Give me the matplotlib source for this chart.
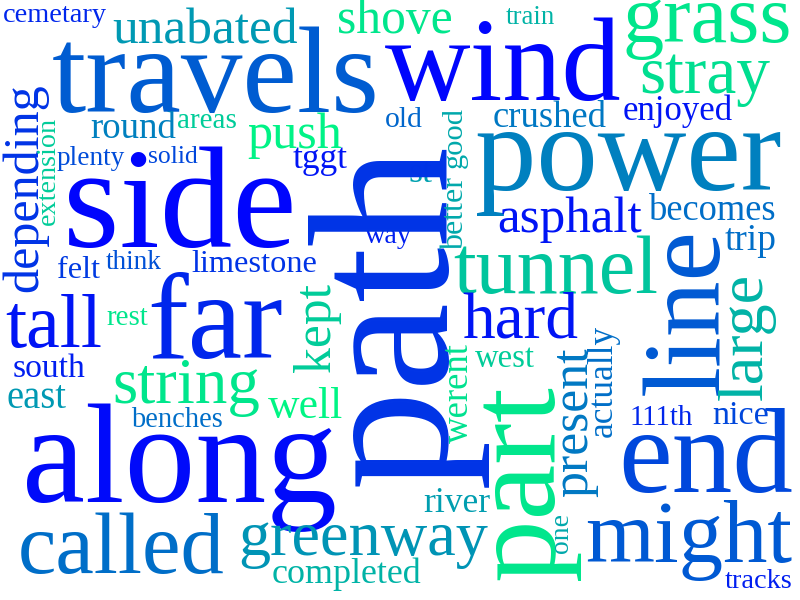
import matplotlib
matplotlib.use("Agg")
import matplotlib.pyplot as plt

# words of the cloud
words = [
    "cemetary", "unabated", "travels", "shove", "train", "grass", "wind",
    "stray", "enjoyed", "crushed", "old", "round", "areas", "push", "plenty",
    "solid", "tggt", "side", "power", "st", "asphalt", "becomes", "trip",
    "tunnel", "way", "felt", "think", "limestone", "tall", "rest", "far",
    "south", "east", "string", "well", "benches", "along", "called",
    "greenway", "completed", "hard", "west", "river", "111th", "nice", "end",
    "might", "tracks",
    "depending", "extension", "path", "part", "line", "large", "kept",
    "good", "better", "werent", "present", "actually", "one",
]

# layout: (start x, baseline, ink length, vertical?, colour shade on 'winter')
layout = [
    (3, 22, 104, 0, 0.15), (112, 43, 186, 0, 0.60), (52, 112, 328, 0, 0.36),
    (337, 33, 116, 0, 0.90), (506, 24, 49, 0, 0.70), (623, 42, 170, 0, 0.90),
    (385, 100, 237, 0, 0.02), (639, 93, 131, 0, 0.87), (623, 120, 110, 0, 0.08),
    (493, 127, 114, 0, 0.47), (385, 127, 38, 0, 0.40), (90, 138, 86, 0, 0.50),
    (177, 128, 60, 0, 0.80), (247, 148, 95, 0, 0.95), (57, 165, 68, 0, 0.30),
    (148, 163, 50, 0, 0.28), (293, 168, 55, 0, 0.08), (63, 247, 234, 0, 0.02),
    (475, 190, 307, 0, 0.50), (408, 182, 24, 0, 0.63), (497, 232, 145, 0, 0.08),
    (649, 220, 128, 0, 0.43), (725, 250, 52, 0, 0.43), (453, 293, 205, 0, 0.77),
    (365, 243, 47, 0, 0.12), (57, 278, 43, 0, 0.23), (106, 269, 56, 0, 0.32),
    (191, 272, 126, 0, 0.20), (5, 347, 97, 0, 0.08), (106, 325, 42, 0, 0.90),
    (147, 358, 136, 0, 0.15), (13, 377, 73, 0, 0.12), (7, 408, 60, 0, 0.60),
    (112, 403, 148, 0, 0.90), (268, 418, 75, 0, 0.96), (131, 427, 92, 0, 0.43),
    (22, 502, 315, 0, 0.04), (18, 573, 207, 0, 0.43), (238, 555, 250, 0, 0.58),
    (272, 583, 150, 0, 0.70), (462, 338, 116, 0, 0.08), (475, 367, 60, 0, 0.80),
    (423, 512, 67, 0, 0.62), (630, 425, 64, 0, 0.15), (712, 424, 57, 0, 0.28),
    (618, 492, 175, 0, 0.28), (585, 562, 207, 0, 0.35), (725, 588, 68, 0, 0.12),
    # vertical words: (baseline x, bottom y, length, 1, shade)
    (37, 292, 209, 1, 0.20), (55, 225, 108, 1, 0.80), (445, 487, 345, 1, 0.20),
    (553, 580, 195, 1, 0.90), (718, 395, 167, 1, 0.35), (762, 400, 127, 1, 0.70),
    (330, 372, 89, 1, 0.80), (462, 168, 61, 1, 0.66), (463, 250, 73, 1, 0.66),
    (468, 443, 100, 1, 0.88), (587, 497, 150, 1, 0.47), (612, 437, 112, 1, 0.43),
    (568, 553, 40, 1, 0.66),
]

FONT = "Liberation Serif"

fig = plt.figure(figsize=(8, 6), dpi=100)
ax = fig.add_axes([0, 0, 1, 1])
ax.set_xlim(0, 800)
ax.set_ylim(600, 0)
ax.axis("off")

renderer = fig.canvas.get_renderer()
cmap = plt.get_cmap("winter")

for word, (x, y, length, vert, shade) in zip(words, layout):
    t = ax.text(x, y, word, fontsize=50, family=FONT, color=cmap(shade),
                rotation=90 if vert else 0, rotation_mode="anchor",
                ha="left", va="baseline")
    bb = t.get_window_extent(renderer)
    size = bb.height if vert else bb.width
    t.set_fontsize(50 * length / size)

fig.savefig("out.png", dpi=100)
